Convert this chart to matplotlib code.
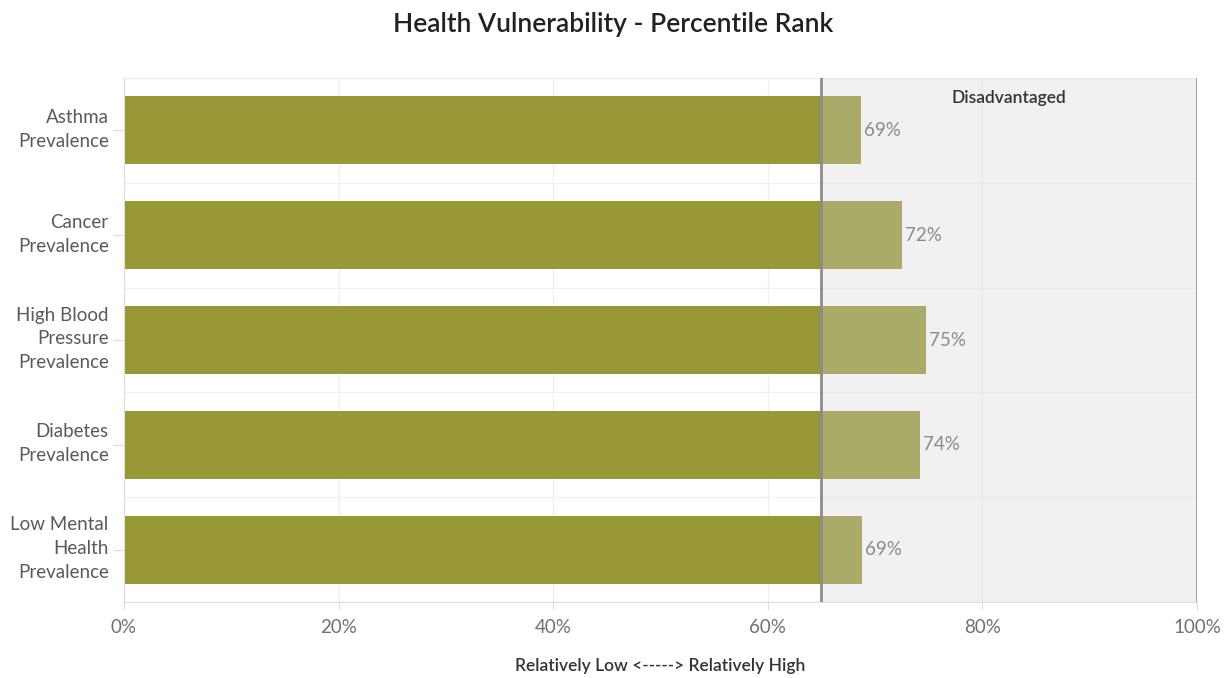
import matplotlib.pyplot as plt
import matplotlib.transforms as mtransforms
from matplotlib.ticker import FuncFormatter

categories = ["Asthma\nPrevalence", "Cancer\nPrevalence", "High Blood\nPressure\nPrevalence",
              "Diabetes\nPrevalence", "Low Mental\nHealth\nPrevalence"]
values = [68.7, 72.5, 74.7, 74.2, 68.8]
labels = ["69%", "72%", "75%", "74%", "69%"]
threshold = 65

plt.rcParams['font.family'] = ['Lato', 'DejaVu Sans']

fig = plt.figure(figsize=(12.27, 6.78), dpi=100)
ax = fig.add_axes([124 / 1227, 76 / 678, 1073 / 1227, 524 / 678])

y = list(range(len(categories)))
ax.barh(y, values, height=0.65, color="#989836", zorder=2)
ax.axvspan(threshold, 100, color="#d6d6d6", alpha=0.32, lw=0, zorder=3)
ax.axvline(threshold, color="#8c8c8c", lw=2, zorder=4)
ax.axvline(100, color="#9a9a9a", lw=2, zorder=4)

for yi, v, lab in zip(y, values, labels):
    ax.text(v + 0.3, yi, lab, va="center", ha="left", fontsize=13.5,
            color="#8a8a8a", zorder=5)

ax.text((threshold + 100) / 2, -0.5 + 0.19, "Disadvantaged", ha="center", va="center",
        fontsize=12.5, fontweight="semibold", color="#333333", zorder=5)

ax.set_xlim(0, 100)
ax.set_ylim(len(categories) - 0.5, -0.5)
ax.set_xticks([0, 20, 40, 60, 80, 100])
ax.xaxis.set_major_formatter(FuncFormatter(lambda x, p: f"{x:.0f}%"))
ax.set_yticks(y)
ax.set_yticklabels(categories, fontsize=13.5, color="#5a5a5a", linespacing=1.5)
ax.tick_params(axis="x", labelsize=13.5, labelcolor="#707070", color="#dddddd", length=6, pad=6)
ax.tick_params(axis="y", color="#dddddd", length=8, pad=3)
shift = mtransforms.ScaledTranslation(0, 6 / 100, fig.dpi_scale_trans)
for lab in ax.get_yticklabels():
    lab.set_multialignment("right")
    lab.set_transform(lab.get_transform() + shift)

ax.set_yticks([i + 0.5 for i in range(-1, len(categories))], minor=True)
ax.tick_params(axis="y", which="minor", length=0)
ax.grid(axis="y", which="minor", color="#f0f0f0", lw=1, zorder=0)
ax.grid(axis="x", which="major", color="#f0f0f0", lw=1, zorder=0)

for s in ["top", "right"]:
    ax.spines[s].set_visible(False)
ax.spines["left"].set_color("#dddddd")
ax.spines["bottom"].set_color("#dddddd")

ax.set_xlabel("Relatively Low <-----> Relatively High", fontsize=12.5, fontweight="semibold",
              color="#333333", labelpad=16)
fig.suptitle("Health Vulnerability - Percentile Rank", fontsize=19, fontweight="semibold",
             color="#222222", y=0.982)

fig.savefig("out.png", dpi=100)
